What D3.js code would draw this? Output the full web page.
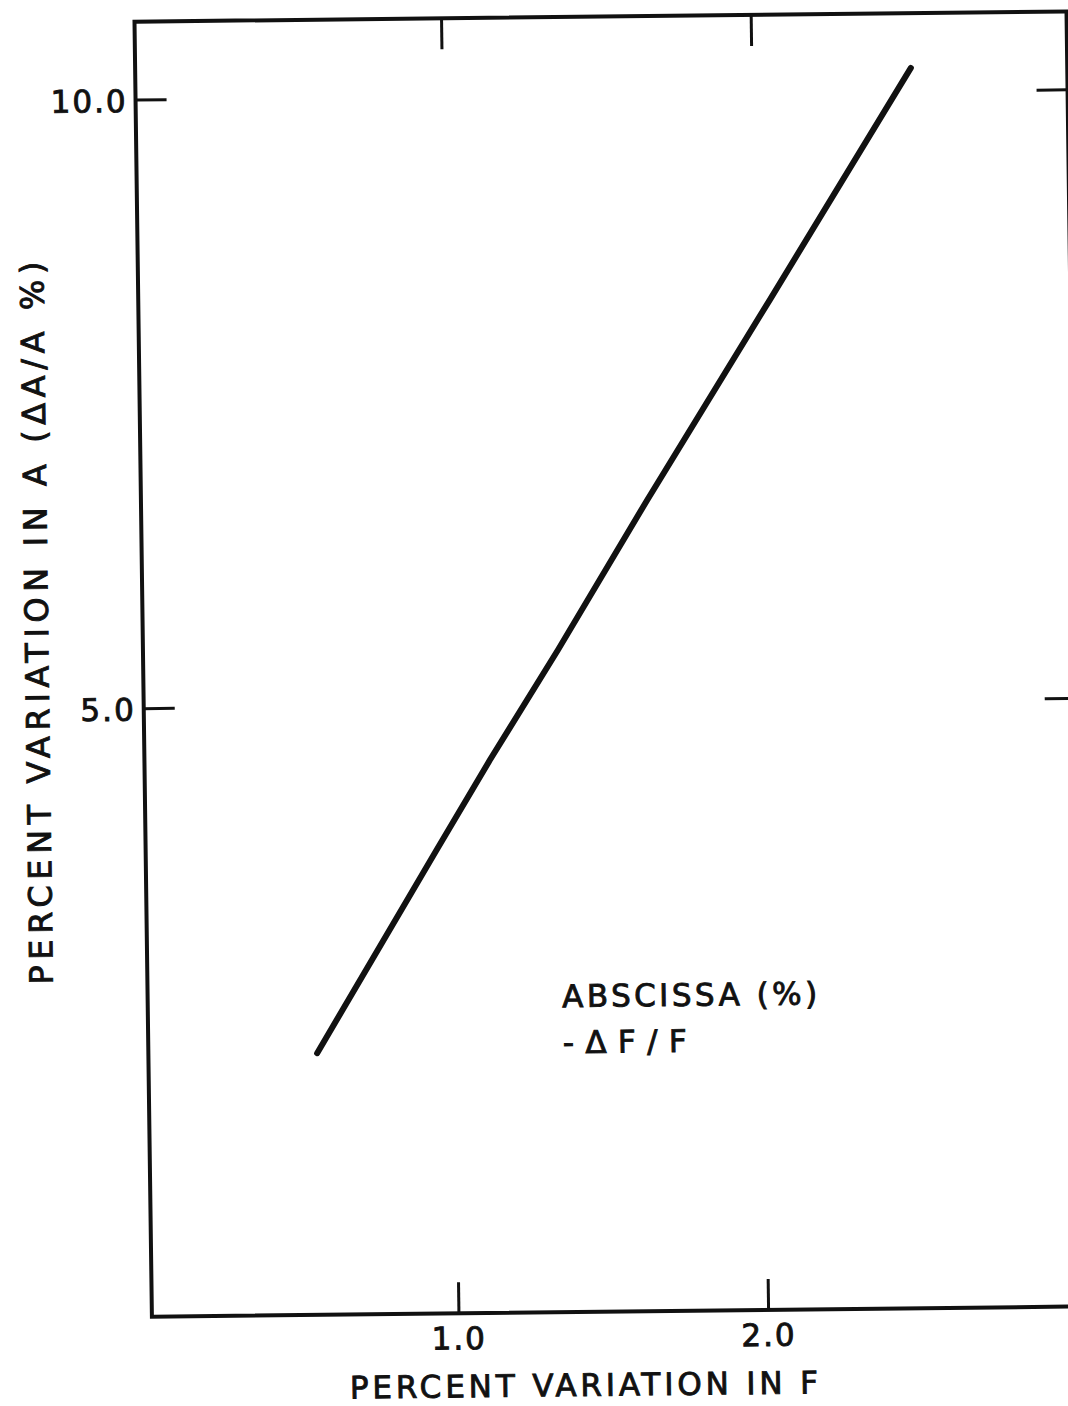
<!DOCTYPE html>
<html>
<head>
<meta charset="utf-8">
<script src="https://cdn.jsdelivr.net/npm/d3@7"></script>
<style>
  html, body { margin: 0; padding: 0; background: #fff; }
  svg { display: block; }
  text { font-family: "DejaVu Sans", "Liberation Sans", sans-serif; fill: #111; stroke: #111; stroke-width: 0.9px; }
</style>
</head>
<body>
<script>
// Percent variation in F (abscissa, -ΔF/F) against percent variation in A (ΔA/A %)
const pctF = [0.555, 0.95, 1.125, 1.35, 1.645, 2.05, 2.515];
const pctA = [2.15, 3.81, 4.54, 5.44, 6.665, 8.30, 10.19];

const xTicks = [1.0, 2.0];
const yTicks = [5.0, 10.0];
const xDomain = [0.01, 3.02];
const yDomain = [0, 10.64];

const xTitle = "PERCENT VARIATION IN F";
const yTitle = "PERCENT VARIATION IN A (\u0394A/A %)";
const noteLines = ["ABSCISSA (%)", "-\u0394F/F"];

const W = 1068, H = 1406;
const plotW = 932, plotH = 1295;

const svg = d3.select("body").append("svg")
  .attr("width", W).attr("height", H);

svg.append("rect").attr("width", W).attr("height", H).attr("fill", "#fff");

// The sheet sits slightly askew on the page
const g = svg.append("g")
  .attr("transform", "matrix(1,-0.011,0.01344,1,134.5,21.7)");

const x = d3.scaleLinear().domain(xDomain).range([0, plotW]);
const y = d3.scaleLinear().domain(yDomain).range([plotH, 0]);

const fmt = d3.format(".1f");
const tickLen = 31;

function styleAxis(sel) {
  sel.select(".domain").remove();
  sel.selectAll(".tick line").attr("stroke", "#111").attr("stroke-width", 3);
  sel.selectAll(".tick text")
    .attr("fill", "#111")
    .style("font-size", "31px")
    .style("letter-spacing", "2px");
}

// Left axis with labels
g.append("g")
  .call(d3.axisLeft(y).tickValues(yTicks).tickFormat(fmt).tickSize(-tickLen).tickPadding(8))
  .call(styleAxis)
  .call(s => s.selectAll(".tick text").attr("dy", "0.38em"));

// Right axis, ticks only
g.append("g").attr("transform", `translate(${plotW},0)`)
  .call(d3.axisRight(y).tickValues(yTicks).tickFormat("").tickSize(-tickLen))
  .call(styleAxis);

// Bottom axis with labels
g.append("g").attr("transform", `translate(0,${plotH})`)
  .call(d3.axisBottom(x).tickValues(xTicks).tickFormat(fmt).tickSize(-tickLen).tickPadding(14))
  .call(styleAxis);

// Top axis, ticks only
g.append("g")
  .call(d3.axisTop(x).tickValues(xTicks).tickFormat("").tickSize(-tickLen))
  .call(styleAxis);

// Frame
g.append("rect")
  .attr("x", 0).attr("y", 0)
  .attr("width", plotW).attr("height", plotH)
  .attr("fill", "none")
  .attr("stroke", "#111")
  .attr("stroke-width", 4);

// Curve
const pts = pctF.map((f, i) => [f, pctA[i]]);
g.append("path")
  .datum(pts)
  .attr("fill", "none")
  .attr("stroke", "#111")
  .attr("stroke-width", 6)
  .attr("stroke-linecap", "round")
  .attr("stroke-linejoin", "round")
  .attr("d", d3.line().x(d => x(d[0])).y(d => y(d[1])));

// Axis titles
g.append("text")
  .attr("x", 197).attr("y", 1379)
  .attr("textLength", 468).attr("lengthAdjust", "spacing")
  .style("font-size", "31px")
  .text(xTitle);

g.append("text")
  .attr("transform", "translate(-94.6,600.3) rotate(-90)")
  .attr("text-anchor", "middle")
  .attr("textLength", 723).attr("lengthAdjust", "spacing")
  .style("font-size", "32px")
  .text(yTitle);

// Note inside the plot
const noteX = 414.5;
const noteY = [990, 1036];
const noteLen = [255, 124];
noteLines.forEach((t, i) => {
  g.append("text")
    .attr("x", noteX).attr("y", noteY[i])
    .attr("textLength", noteLen[i]).attr("lengthAdjust", "spacing")
    .style("font-size", "31px")
    .text(t);
});
</script>
</body>
</html>
